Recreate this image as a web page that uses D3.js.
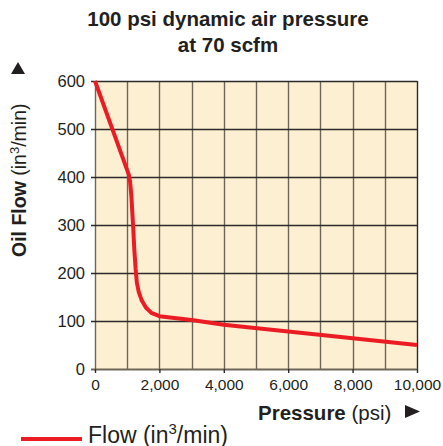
<!DOCTYPE html>
<html>
<head>
<meta charset="utf-8">
<script src="https://cdn.jsdelivr.net/npm/d3@7"></script>
<style>
  body { margin: 0; background: #fff; }
  text { font-family: "Liberation Sans", Arial, Helvetica, sans-serif; fill: #231f20; }
</style>
</head>
<body>
<div id="chart"></div>
<script>
// curve (pressure psi, flow in3/min)
const pressure = [0, 1050, 1090, 1130, 1160, 1190, 1220, 1260, 1300, 1360, 1450, 1580, 1750, 2000, 3000, 4000, 6000, 8000, 10000];
const flow     = [600, 405, 390, 360, 325, 290, 250, 210, 180, 160, 143, 128, 117, 110, 102, 92, 78, 64, 50];
const xTicks = [0, 2000, 4000, 6000, 8000, 10000];
const yTicks = [0, 100, 200, 300, 400, 500, 600];
const xGrid = d3.range(0, 10001, 1000);

const width = 443, height = 446;
const margin = { left: 95, right: 26, top: 81, bottom: 77 };

const svg = d3.select("#chart").append("svg")
  .attr("width", width)
  .attr("height", height);

const x = d3.scaleLinear().domain([0, 10000]).range([margin.left, width - margin.right]);
const y = d3.scaleLinear().domain([0, 600]).range([height - margin.bottom, margin.top]);

// plot background
svg.append("rect")
  .attr("x", x(0)).attr("y", y(600))
  .attr("width", x(10000) - x(0))
  .attr("height", y(0) - y(600))
  .attr("fill", "#fdefd2");

// vertical grid
svg.append("g")
  .selectAll("line")
  .data(xGrid)
  .enter().append("line")
  .attr("x1", d => Math.round(x(d)) + 0.5).attr("x2", d => Math.round(x(d)) + 0.5)
  .attr("y1", y(600)).attr("y2", y(0))
  .attr("stroke", d => (d === 10000 ? "#2b2b2b" : "#6f665a"))
  .attr("stroke-width", 1.4);

// horizontal grid
svg.append("g")
  .selectAll("line")
  .data(yTicks)
  .enter().append("line")
  .attr("x1", x(0) - 4).attr("x2", x(10000) + 0.5)
  .attr("y1", d => Math.round(y(d)) + 0.5).attr("y2", d => Math.round(y(d)) + 0.5)
  .attr("stroke", d => (d === 0 ? "#6f665a" : "#2b2b2b"))
  .attr("stroke-width", d => (d === 0 ? 2 : 1.4));

// axes (labels only, lines drawn by grid)
const yAxis = svg.append("g")
  .attr("transform", `translate(${x(0) - 4},0)`)
  .call(d3.axisLeft(y).tickValues(yTicks).tickSize(0).tickPadding(6));
yAxis.select(".domain").remove();
yAxis.selectAll("text")
  .attr("font-size", 16.5)
  .attr("font-family", "Liberation Sans, Arial, sans-serif")
  .attr("fill", "#231f20");

const xAxis = svg.append("g")
  .attr("transform", `translate(0,${y(0)})`)
  .call(d3.axisBottom(x).tickValues(xTicks).tickFormat(d3.format(",")).tickSize(4).tickPadding(6));
xAxis.select(".domain").remove();
xAxis.selectAll(".tick line").attr("stroke", "#2b2b2b").attr("stroke-width", 1.4);
xAxis.selectAll("text")
  .attr("font-size", 15.5)
  .attr("font-family", "Liberation Sans, Arial, sans-serif")
  .attr("fill", "#231f20");

// flow curve
const line = d3.line()
  .x(d => x(d[0]))
  .y(d => y(d[1]))
  .curve(d3.curveLinear);

svg.append("path")
  .datum(pressure.map((p, i) => [p, flow[i]]))
  .attr("d", line)
  .attr("fill", "none")
  .attr("stroke", "#ec1c24")
  .attr("stroke-width", 4)
  .attr("stroke-linejoin", "round");

// title
const title = svg.append("text")
  .attr("text-anchor", "middle")
  .attr("font-size", 20.5)
  .attr("font-weight", "bold");
title.append("tspan").attr("x", 228).attr("y", 26).text("100 psi dynamic air pressure");
title.append("tspan").attr("x", 228).attr("y", 52).text("at 70 scfm");

// y axis title
const yTitle = svg.append("text")
  .attr("transform", "translate(26,257) rotate(-90)")
  .attr("text-anchor", "start")
  .attr("font-size", 19.5);
yTitle.append("tspan").attr("font-weight", "bold").text("Oil Flow ");
yTitle.append("tspan").text("(in");
yTitle.append("tspan").attr("font-size", 13).attr("dy", -7).text("3");
yTitle.append("tspan").attr("dy", 7).text("/min)");

// arrows
svg.append("path")
  .attr("d", "M11,74 L25,74 L18,62 Z")
  .attr("fill", "#231f20");
svg.append("path")
  .attr("d", "M405,405 L405,418 L420,411.5 Z")
  .attr("fill", "#231f20");

// x axis title
const xTitle = svg.append("text")
  .attr("x", 258).attr("y", 420)
  .attr("font-size", 20.5);
xTitle.append("tspan").attr("font-weight", "bold").text("Pressure ");
xTitle.append("tspan").text("(psi)");

// legend
svg.append("line")
  .attr("x1", 21).attr("x2", 82)
  .attr("y1", 439).attr("y2", 439)
  .attr("stroke", "#ec1c24")
  .attr("stroke-width", 4);

const legend = svg.append("text")
  .attr("x", 88).attr("y", 443)
  .attr("font-size", 23);
legend.append("tspan").text("Flow (in");
legend.append("tspan").attr("font-size", 15).attr("dy", -9).text("3");
legend.append("tspan").attr("dy", 9).text("/min)");
</script>
</body>
</html>
